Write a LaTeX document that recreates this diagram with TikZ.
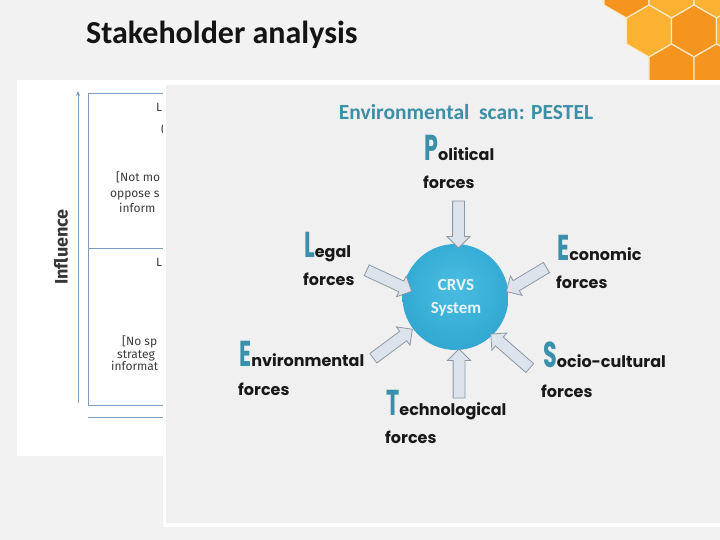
\documentclass[tikz,border=0pt]{standalone}
\usepackage{fontspec}
\setmainfont{Carlito}
\newfontfamily\popfont{Poppins}
\newfontfamily\leftfont{Fira Sans}
\usetikzlibrary{shapes.arrows,calc,arrows.meta}
\definecolor{bg}{HTML}{F2F2F2}
\definecolor{panelbg}{HTML}{F0F0F0}
\definecolor{hexlight}{HTML}{FBB232}
\definecolor{hexdark}{HTML}{F5951F}
\definecolor{hexline}{HTML}{FCE8C4}
\definecolor{axisblue}{HTML}{7E9BC0}
\definecolor{lefttext}{HTML}{3C3C3C}
\definecolor{tealtxt}{HTML}{3E8EA6}
\definecolor{initc}{HTML}{3A90AA}
\definecolor{arrowfill}{HTML}{DCE3EC}
\definecolor{arrowline}{HTML}{8D98A5}
\definecolor{ballA}{HTML}{4CBDE1}
\definecolor{ballB}{HTML}{37AED7}
\definecolor{ballC}{HTML}{2B9AC4}
\definecolor{ballD}{HTML}{2386AE}
\definecolor{crvstxt}{HTML}{E8F5FA}
\pgfdeclareradialshading{crvsball}{\pgfpoint{0bp}{6bp}}{color(0bp)=(ballA); color(20bp)=(ballB); color(40bp)=(ballC); color(50bp)=(ballD)}
\newcommand\initl[1]{{\color{initc}\fontsize{36}{36}\selectfont\scalebox{0.62}[1]{#1}}}
\newcommand\blockarrow[3]{%
  \path let \p1=($(#3)-(#2)$), \n1={atan2(\y1,\x1)}, \n2={veclen(\x1,\y1)} in
    node[blockarr, rotate=\n1, minimum height=\n2] (#1) at ($(#2)!0.5!(#3)$) {};}
\tikzset{
  blockarr/.style={single arrow, draw=arrowline, fill=arrowfill, line width=0.8pt,
    inner xsep=0pt, inner ysep=5.5pt, single arrow head extend=5.5pt, minimum width=0pt, outer sep=0pt},
  pestel/.style={anchor=base west, inner sep=0pt, font=\popfont\bfseries\fontsize{16}{16}\selectfont, text=black!90},
  small/.style={anchor=base west, inner sep=0pt, font=\leftfont\fontsize{12}{12}\selectfont, text=lefttext},
  axisline/.style={draw=axisblue, line width=0.9pt},
}
\begin{document}
\begin{tikzpicture}[x=1pt,y=-1pt]
\useasboundingbox (0,0) rectangle (720,540);
\clip (0,0) rectangle (720,540);
\fill[bg] (0,0) rectangle (720,540);
% honeycomb
\foreach \cx/\cy/\col in {626.5/-8/hexdark, 671.5/-8/hexlight, 716.5/-8/hexlight, 649/31/hexlight, 694/31/hexdark, 739/31/hexlight, 671.5/70/hexdark, 716.5/70/hexdark}
  \filldraw[fill=\col, draw=hexline, line width=1.2pt] (\cx,\cy) +(90:26) -- +(30:26) -- +(-30:26) -- +(-90:26) -- +(-150:26) -- +(150:26) -- cycle;
% title
\node[anchor=base west, inner sep=0pt, font=\bfseries\fontsize{32}{32}\selectfont, text=black!92] (title) at (86,44) {Stakeholder analysis};
% left panel
\fill[white] (17,80) rectangle (163,456);
\coordinate (ybot) at (78,403);
\coordinate (ytop) at (78,91);
\draw[axisline, -{Stealth[length=5pt,width=4pt]}] (ybot) -- (ytop);
\draw[axisline] (200,93) -- (88,93) -- (88,405) -- (200,405);
\draw[axisline] (88,248) -- (200,248);
\draw[axisline] (88,417) -- (200,417);
\node[rotate=90, inner sep=0pt, font=\leftfont\bfseries\fontsize{18}{18}\selectfont, text=lefttext!90!black] (infl) at (61,247) {Influence};
\node[small] (t1) at (156,112) {L};
\node[small] (t2) at (161,134) {(};
\node[small] (t3) at (116,182) {[Not mo};
\node[small] (t4) at (110,198) {oppose s};
\node[small] (t5) at (119,213) {inform};
\node[small] (t6) at (156,266) {L};
\node[small] (t7) at (122,345) {[No sp};
\node[small] (t8) at (117,358) {strateg};
\node[small] (t9) at (111,370) {informat};
% right panel
\fill[white] (163,80) rectangle (720,527);
\fill[panelbg] (166,85) rectangle (720,523);
\node[anchor=base, inner sep=0pt, font=\bfseries\fontsize{21.5}{21.5}\selectfont, text=tealtxt] (scan) at (466,120) {Environmental\ \ scan: PESTEL};
% centre
\node[circle, minimum size=106pt, inner sep=0pt, shading=crvsball] (crvs) at (455.5,297) {};
\node[align=center, inner sep=0pt, font=\bfseries\fontsize{17}{23}\selectfont, text=crvstxt] (crvstext) at (456,298) {CRVS\\System};
% labels
\node[pestel] (pol) at (424,161) {\initl{P}olitical};
\node[pestel] (polf) at (423,189) {forces};
\node[pestel] (leg) at (304,257) {\initl{L}egal};
\node[pestel] (legf) at (303,285) {forces};
\node[pestel] (eco) at (557,260) {\initl{E}conomic};
\node[pestel] (ecof) at (556,288) {forces};
\node[pestel] (env) at (239,366) {\initl{E}nvironmental};
\node[pestel] (envf) at (238,395) {forces};
\node[pestel] (soc) at (543,367) {\initl{S}ocio-cultural};
\node[pestel] (socf) at (541,397) {forces};
\node[pestel] (tec) at (386,415) {\initl{T}echnological};
\node[pestel] (tecf) at (385,443) {forces};
% block arrows
\coordinate (pA) at (458.5,198); \coordinate (pB) at (458.5,245);
\coordinate (lA) at (364,269);   \coordinate (lB) at (409,290);
\coordinate (eA) at (549,266);   \coordinate (eB) at (509,290);
\coordinate (vA) at (371,360);   \coordinate (vB) at (410,331);
\coordinate (sA) at (532,370);   \coordinate (sB) at (493,336);
\coordinate (tA) at (459,401);   \coordinate (tB) at (459,352);
\blockarrow{arP}{pA}{pB}
\blockarrow{arL}{lA}{lB}
\blockarrow{arE}{eA}{eB}
\blockarrow{arV}{vA}{vB}
\blockarrow{arS}{sA}{sB}
\blockarrow{arT}{tA}{tB}
\end{tikzpicture}
\end{document}
